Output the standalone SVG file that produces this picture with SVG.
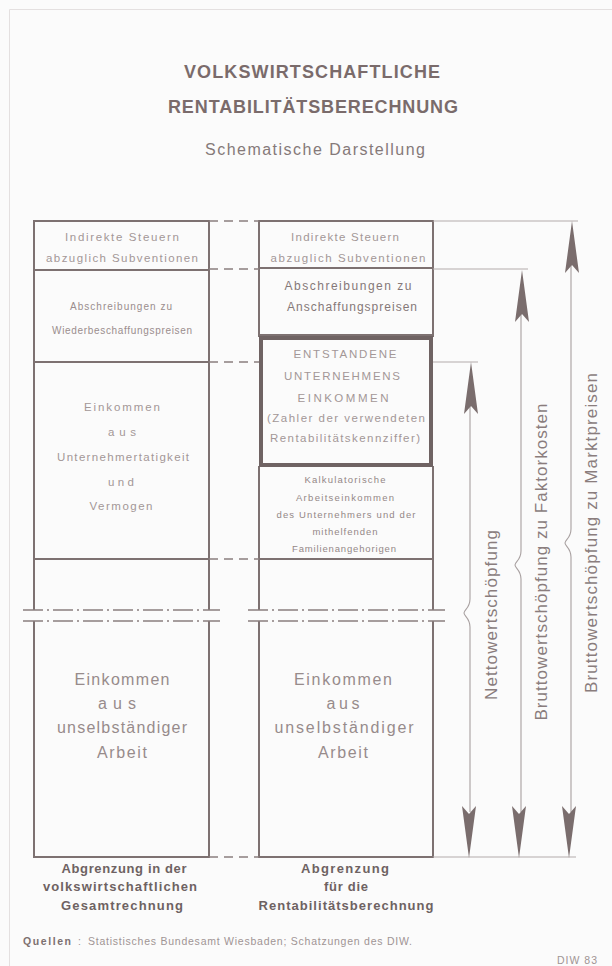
<svg xmlns="http://www.w3.org/2000/svg" xmlns:xlink="http://www.w3.org/1999/xlink" width="612" height="966" viewBox="0 0 612 966">
<style>
.bg{fill:#fbfbfb}
.col{stroke:#7d7171;stroke-width:2;fill:none}
.thick{stroke:#6f6363;stroke-width:4;fill:none}
.dash{stroke:#8a7f7f;stroke-width:1.5;stroke-dasharray:9 6;fill:none}
.dd{stroke:#8a7f7f;stroke-width:1.5;stroke-dasharray:20 4 2 4;fill:none}
.ext{stroke:#b3abab;stroke-width:1;fill:none}
.arr{stroke:#a8a0a0;stroke-width:1.1;fill:none}
.head{fill:#7a6d6d}
text{font-family:"Liberation Sans",Arial,sans-serif;text-anchor:middle;lengthAdjust:spacing}
.t{font-weight:bold;font-size:18px;fill:#7a6b6b}
.st{font-size:16px;fill:#857979}
.bx{font-size:11.5px;fill:#a39797}
.bs{font-size:10px;fill:#9a8d8d}
.bd{font-size:12px;fill:#857878}
.bk{font-size:9.5px;fill:#948787}
.big{font-size:16px;fill:#978b8b}
.lab{font-weight:bold;font-size:13px;fill:#6e6262}
.rot{font-size:17px;fill:#8a7d7d}
.ft{font-size:10.5px;fill:#a09494;text-anchor:start}
</style>
<defs>
<path id="ahUp" d="M0,0 L7,52 L0,44 L-7,52 Z"/>
<path id="ahDown" d="M0,0 L7,-52 L0,-44 L-7,-52 Z"/>
</defs>
<rect class="bg" x="0" y="0" width="612" height="966"/>
<path d="M9.5,966 V9.5 H612" stroke="#e4e0e0" stroke-width="1" fill="none"/>

<g id="title">
<text class="t" x="312" y="78" textLength="256">VOLKSWIRTSCHAFTLICHE</text>
<text class="t" x="313" y="113" textLength="290">RENTABILITÄTSBERECHNUNG</text>
<text class="st" x="315" y="155" textLength="220">Schematische Darstellung</text>
</g>

<g id="left-column">
<path class="col" d="M34,610 V221 H209 V610 M34,621 V857 H209 V621 M34,270 H209 M34,362 H209 M34,559 H209"/>
<g id="l-indirekte">
<text class="bx" x="122" y="241" textLength="114">Indirekte Steuern</text>
<text class="bx" x="122" y="262" textLength="152">abzuglich Subventionen</text>
</g>
<g id="l-abschreibungen">
<text class="bs" x="121" y="310" textLength="102">Abschreibungen zu</text>
<text class="bs" x="122" y="334" textLength="140">Wiederbeschaffungspreisen</text>
</g>
<g id="l-unternehmer">
<text class="bx" x="122" y="411" textLength="76">Einkommen</text>
<text class="bx" x="122" y="436" textLength="28">aus</text>
<text class="bx" x="123" y="461" textLength="132">Unternehmertatigkeit</text>
<text class="bx" x="121" y="486" textLength="26">und</text>
<text class="bx" x="121" y="510" textLength="63">Vermogen</text>
</g>
<g id="l-arbeit">
<text class="big" x="122" y="685" textLength="95">Einkommen</text>
<text class="big" x="117" y="709" textLength="38">aus</text>
<text class="big" x="122" y="733" textLength="130">unselbständiger</text>
<text class="big" x="122" y="758" textLength="50">Arbeit</text>
</g>
<g id="l-label">
<text class="lab" x="124" y="873" textLength="125">Abgrenzung in der</text>
<text class="lab" x="120" y="891" textLength="154">volkswirtschaftlichen</text>
<text class="lab" x="122" y="910" textLength="122">Gesamtrechnung</text>
</g>
</g>

<g id="right-column">
<path class="col" d="M259,337 V221 H433 V337 M259,466 V610 M433,466 V610 M259,621 V857 H433 V621 M259,268 H433 M259,335 H433 M259,559 H433"/>
<rect class="thick" x="261" y="338" width="170" height="127"/>
<g id="r-indirekte">
<text class="bx" x="345" y="241" textLength="108">Indirekte Steuern</text>
<text class="bx" x="348" y="262" textLength="155">abzuglich Subventionen</text>
</g>
<g id="r-abschreibungen">
<text class="bd" x="348" y="290" textLength="127">Abschreibungen zu</text>
<text class="bd" x="352" y="311" textLength="130">Anschaffungspreisen</text>
</g>
<g id="r-unternehmens">
<text class="bx" x="345" y="358" textLength="103">ENTSTANDENE</text>
<text class="bx" x="342" y="380" textLength="116">UNTERNEHMENS</text>
<text class="bx" x="343" y="402" textLength="91">EINKOMMEN</text>
<text class="bx" x="346" y="422" textLength="158">(Zahler der verwendeten</text>
<text class="bx" x="345" y="442" textLength="150">Rentabilitätskennziffer)</text>
</g>
<g id="r-kalkulatorisch">
<text class="bk" x="345" y="483" textLength="81">Kalkulatorische</text>
<text class="bk" x="345" y="501" textLength="98">Arbeitseinkommen</text>
<text class="bk" x="346" y="518" textLength="139">des Unternehmers und der</text>
<text class="bk" x="345" y="535" textLength="65">mithelfenden</text>
<text class="bk" x="344" y="552" textLength="104">Familienangehorigen</text>
</g>
<g id="r-arbeit">
<text class="big" x="343" y="685" textLength="98">Einkommen</text>
<text class="big" x="343" y="709" textLength="33">aus</text>
<text class="big" x="344" y="733" textLength="139">unselbständiger</text>
<text class="big" x="343" y="758" textLength="50">Arbeit</text>
</g>
<g id="r-label">
<text class="lab" x="345" y="873" textLength="88">Abgrenzung</text>
<text class="lab" x="346" y="891" textLength="44">für die</text>
<text class="lab" x="346" y="910" textLength="175">Rentabilitätsberechnung</text>
</g>
</g>

<g id="label-netto"><text class="rot" transform="translate(497,615) rotate(-90)" textLength="170">Nettowertschöpfung</text></g>
<g id="label-faktor"><text class="rot" transform="translate(547,562) rotate(-90)" textLength="317">Bruttowertschöpfung zu Faktorkosten</text></g>
<g id="label-markt"><text class="rot" transform="translate(597,533) rotate(-90)" textLength="320">Bruttowertschöpfung zu Marktpreisen</text></g>

<g id="connectors">
<path class="dash" d="M209,221 H259 M209,269 H259 M209,362 H259 M209,559 H259 M209,857 H259"/>
<path class="dd" d="M23,610 H220 M23,621 H220 M248,610 H445 M248,621 H445"/>
<path class="ext" d="M433,221 H578 M433,269 H528 M433,362 H478 M433,857 H576"/>
<path class="arr" d="M470,400 V599 C470,608 464,610 464,613 C464,616 470,618 470,627 V812"/>
<path class="arr" d="M521,310 V551 C521,560 515,562 515,565 C515,568 521,570 521,579 V812"/>
<path class="arr" d="M571,260 V529 C571,538 565,540 565,543 C565,546 571,548 571,557 V812"/>
<use href="#ahUp" class="head" x="471" y="362"/>
<use href="#ahUp" class="head" x="522" y="270"/>
<use href="#ahUp" class="head" x="572" y="221"/>
<use href="#ahDown" class="head" x="469" y="858"/>
<use href="#ahDown" class="head" x="519" y="858"/>
<use href="#ahDown" class="head" x="569" y="858"/>
</g>

<g id="footer">
<text class="ft" x="23" y="945" textLength="48" style="fill:#7d7070;font-weight:bold">Quellen</text>
<text class="ft" x="78" y="945">:</text>
<text class="ft" x="88" y="945" textLength="324">Statistisches Bundesamt Wiesbaden; Schatzungen des DIW.</text>
<text class="ft" x="557" y="964" textLength="40">DIW 83</text>
</g>
</svg>
